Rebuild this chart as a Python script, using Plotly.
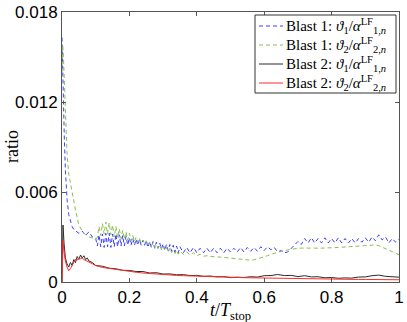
#$ Import necessary libraries
import plotly.graph_objects as go

#@ Time axis for blast 1 runs (t / T_stop)
t_blast1 = [0, 0.002, 0.004, 0.007, 0.01, 0.015, 0.02, 0.025, 0.03, 0.035, 0.04, 0.045, 0.05, 0.06, 0.07, 0.08, 0.09, 0.1,
            0.105, 0.11, 0.115, 0.12, 0.125, 0.13, 0.135, 0.14, 0.145, 0.15, 0.155, 0.16, 0.165, 0.17, 0.175, 0.18,
            0.185, 0.19, 0.195, 0.2, 0.205, 0.21, 0.215, 0.22, 0.225, 0.23, 0.235, 0.24, 0.245, 0.25, 0.255, 0.26,
            0.265, 0.27, 0.275, 0.28, 0.285, 0.29, 0.295, 0.3, 0.305, 0.31, 0.315, 0.32, 0.325, 0.33, 0.335, 0.34,
            0.345, 0.35,
            0.36, 0.37, 0.38, 0.39, 0.4, 0.41, 0.42, 0.43, 0.44, 0.45, 0.46, 0.47, 0.48, 0.49, 0.5, 0.51, 0.52, 0.53,
            0.54, 0.55, 0.56, 0.57, 0.58, 0.59, 0.6, 0.61, 0.62, 0.63, 0.64, 0.65, 0.66, 0.67, 0.68, 0.69, 0.7, 0.71,
            0.72, 0.73, 0.74, 0.75, 0.76, 0.77, 0.78, 0.79, 0.8, 0.81, 0.82, 0.83, 0.84, 0.85, 0.86, 0.87, 0.88, 0.89,
            0.9, 0.91, 0.92, 0.93, 0.94, 0.95, 0.96, 0.97, 0.98, 0.99, 1.0]

#@ Ratios in units of 1e-3
blast1_theta1 = [16.3, 14.0, 12.0, 9.5, 7.5, 5.5, 4.5, 4.0, 3.7, 3.5, 3.4, 3.3, 3.25, 3.4, 3.1, 3.35, 3.0, 2.9,
                 2.4, 3.15, 2.35, 3.2, 2.3, 3.25, 2.35, 3.25, 2.3, 3.2, 2.35, 3.2, 2.35, 3.15, 2.4, 3.1,
                 2.4, 3.05, 2.45, 2.95, 2.45, 2.9, 2.45, 2.85, 2.45, 2.85, 2.45, 2.8, 2.45, 2.75, 2.3, 2.7,
                 2.3, 2.7, 2.25, 2.65, 2.25, 2.6, 2.2, 2.55, 2.1, 2.5, 2.1, 2.5, 2.05, 2.45, 2.0, 2.4,
                 1.95, 2.35,
                 1.95, 2.3, 1.95, 2.3, 1.95, 2.25, 1.95, 2.25, 1.95, 2.25, 1.95, 2.25, 1.95, 2.25, 2.0, 2.25, 2.0, 2.3,
                 2.0, 2.3, 2.05, 2.3, 2.05, 2.35, 2.1, 2.35, 2.15, 2.3, 2.0, 2.1, 1.95, 2.0, 2.25, 2.5, 2.7, 2.5,
                 2.9, 2.6, 2.95, 2.6, 2.9, 2.6, 2.95, 2.6, 2.9, 2.6, 2.95, 2.6, 2.9, 2.6, 2.9, 2.6, 2.9, 2.65,
                 2.95, 2.65, 3.0, 2.75, 3.15, 2.8, 3.0, 2.6, 2.9, 2.65, 2.85]

blast1_theta2 = [14.0, 15.8, 15.2, 13.0, 11.0, 8.5, 7.2, 6.5, 6.0, 5.4, 4.8, 4.2, 3.8, 3.4, 3.15, 3.0, 2.9, 2.85,
                 3.0, 3.7, 3.1, 3.9, 3.2, 4.0, 3.2, 3.95, 3.15, 3.8, 3.0, 3.7, 2.95, 3.55, 2.9, 3.45,
                 2.85, 3.35, 2.8, 3.25, 2.75, 3.1, 2.7, 3.0, 2.65, 2.9, 2.6, 2.8, 2.55, 2.75, 2.45, 2.65,
                 2.4, 2.6, 2.3, 2.5, 2.25, 2.45, 2.15, 2.4, 2.1, 2.3, 2.0, 2.25, 1.95, 2.15, 1.9, 2.1,
                 1.85, 2.05,
                 1.85, 2.0, 1.8, 1.95, 1.75, 1.85, 1.72, 1.75, 1.7, 1.7, 1.68, 1.66, 1.64, 1.62, 1.6, 1.57, 1.54, 1.5,
                 1.47, 1.45, 1.45, 1.48, 1.53, 1.6, 1.68, 1.76, 1.84, 1.92, 1.99, 2.05, 2.1, 2.15, 2.19, 2.22, 2.25, 2.26,
                 2.27, 2.27, 2.27, 2.26, 2.25, 2.25, 2.25, 2.25, 2.26, 2.28, 2.3, 2.32, 2.34, 2.36, 2.38, 2.4, 2.41, 2.43,
                 2.44, 2.46, 2.47, 2.47, 2.42, 2.32, 2.2, 2.08, 1.97, 1.88, 1.82]

#@ Time axis for blast 2 runs
t_blast2 = [0, 0.003, 0.006, 0.01, 0.015, 0.02, 0.025, 0.03, 0.035, 0.04, 0.045, 0.05, 0.055, 0.06, 0.065, 0.07,
            0.075, 0.08, 0.09, 0.1,
            0.12, 0.14, 0.16, 0.18, 0.2, 0.22, 0.24, 0.26, 0.28, 0.3, 0.32, 0.34, 0.36, 0.38, 0.4, 0.42, 0.44,
            0.46, 0.48, 0.5, 0.52, 0.54, 0.56, 0.58, 0.6, 0.62, 0.64, 0.66, 0.68, 0.7, 0.72, 0.74, 0.76, 0.78,
            0.8, 0.82, 0.84, 0.86, 0.88, 0.9, 0.92, 0.94, 0.96, 0.98, 1.0]

blast2_theta1 = [0.0, 3.8, 2.6, 1.6, 1.2, 1.0, 1.3, 1.1, 1.5, 1.3, 1.7, 1.5, 1.8, 1.6, 1.75, 1.5,
                 1.6, 1.4, 1.3, 1.1,
                 1.05, 0.92, 0.88, 0.78, 0.77, 0.7, 0.7, 0.6, 0.62, 0.53, 0.54, 0.48, 0.49, 0.43, 0.44, 0.38, 0.4,
                 0.34, 0.36, 0.29, 0.32, 0.3, 0.35, 0.33, 0.42, 0.43, 0.5, 0.43, 0.44, 0.36, 0.42, 0.34, 0.35, 0.28,
                 0.3, 0.25, 0.27, 0.26, 0.33, 0.34, 0.42, 0.46, 0.38, 0.37, 0.32]

blast2_theta2 = [0.0, 2.8, 2.0, 1.4, 1.0, 0.75, 0.9, 1.1, 1.3, 1.5, 1.45, 1.6, 1.55, 1.6, 1.5, 1.45,
                 1.4, 1.3, 1.2, 1.1,
                 0.97, 0.9, 0.82, 0.75, 0.7, 0.65, 0.6, 0.56, 0.52, 0.49, 0.46, 0.44, 0.42, 0.4, 0.38, 0.36, 0.34,
                 0.33, 0.32, 0.31, 0.3, 0.29, 0.28, 0.27, 0.27, 0.26, 0.26, 0.25, 0.25, 0.24, 0.23, 0.22, 0.21, 0.2,
                 0.2, 0.19, 0.18, 0.18, 0.17, 0.17, 0.16, 0.16, 0.15, 0.15, 0.15]

#@ Axis ticks
x_ticks = [0, 0.2, 0.4, 0.6, 0.8, 1]
x_labels = ['0', '0.2', '0.4', '0.6', '0.8', '1']
y_ticks = [0, 6, 12, 18]
y_labels = ['0', '0.006', '0.012', '0.018']

#@ Series labels and styles
names = ['Blast 1: <i>ϑ</i><sub>1</sub>/<i>α</i><sup>LF</sup><sub>1,<i>n</i></sub>',
         'Blast 1: <i>ϑ</i><sub>2</sub>/<i>α</i><sup>LF</sup><sub>2,<i>n</i></sub>',
         'Blast 2: <i>ϑ</i><sub>1</sub>/<i>α</i><sup>LF</sup><sub>1,<i>n</i></sub>',
         'Blast 2: <i>ϑ</i><sub>2</sub>/<i>α</i><sup>LF</sup><sub>2,<i>n</i></sub>']
colors = ['#3d3dff', '#8cbd52', '#2a2a2a', '#ff2a2a']
dashes = ['4px,3px', '4px,3px', 'solid', 'solid']

#$ Build the figure
fig = go.Figure()
series = [(t_blast1, blast1_theta1), (t_blast1, blast1_theta2),
          (t_blast2, blast2_theta1), (t_blast2, blast2_theta2)]
for (tx, vy), nm, col, ds in zip(series, names, colors, dashes):
    fig.add_trace(go.Scatter(x=tx, y=vy, mode='lines', name=nm, showlegend=False,
                             line=dict(color=col, width=1, dash=ds)))

#@ Layout
W, H = 407, 322
L, R, T, B = 62, 8, 12, 40
fig.update_layout(
    width=W, height=H,
    margin=dict(l=L, r=R, t=T, b=B),
    plot_bgcolor='white', paper_bgcolor='white',
    font=dict(family='Liberation Sans', size=17, color='black'),
)
fig.update_xaxes(range=[0, 1], tickvals=x_ticks, ticktext=x_labels, automargin=False,
                 ticklabeloverflow='allow',
                 ticks='inside', ticklen=4, tickcolor='#555', showgrid=False, zeroline=False,
                 showline=True, linecolor='#555', linewidth=1, mirror='ticks')
fig.update_yaxes(range=[0, 18], tickvals=y_ticks, ticktext=y_labels, automargin=False,
                 ticklabeloverflow='allow',
                 ticks='inside', ticklen=4, tickcolor='#555', showgrid=False, zeroline=False,
                 showline=True, linecolor='#555', linewidth=1, mirror='ticks')

#@ Pixel -> paper helpers for the hand-placed legend
pw, ph = W - L - R, H - T - B
px = lambda p: (p - L) / pw
py = lambda p: (H - B - p) / ph

#@ Legend box drawn by hand (matlab style: compact rows)
fig.add_shape(type='rect', xref='paper', yref='paper',
              x0=px(255), x1=px(396), y0=py(93), y1=py(15),
              line=dict(color='#333', width=1), fillcolor='white', layer='above')
rows = [26, 45, 64, 83]
for row, nm, col, ds in zip(rows, names, colors, dashes):
    fig.add_shape(type='line', xref='paper', yref='paper',
                  x0=px(259), x1=px(283), y0=py(row), y1=py(row),
                  line=dict(color=col, width=1, dash=ds), layer='above')
    fig.add_annotation(text=nm, xref='paper', yref='paper', x=px(284), y=py(row),
                       xanchor='left', yanchor='middle', showarrow=False,
                       font=dict(family='Liberation Serif', size=15))

#@ Axis titles placed as annotations
fig.add_annotation(text='<i>t</i>/<i>T</i><sub>stop</sub>', xref='paper', yref='paper',
                   x=0.5, y=py(311), xanchor='center', yanchor='middle', showarrow=False,
                   font=dict(family='Liberation Serif', size=18))
fig.add_annotation(text='ratio', xref='paper', yref='paper', textangle=-90,
                   x=px(12), y=0.5, xanchor='center', yanchor='middle', showarrow=False,
                   font=dict(family='Liberation Serif', size=18))

#@ Drop the default page margin so the figure sits at the window corner
fig.write_html('out.html', config={'displayModeBar': False},
               post_script="document.body.style.margin='0px';")
